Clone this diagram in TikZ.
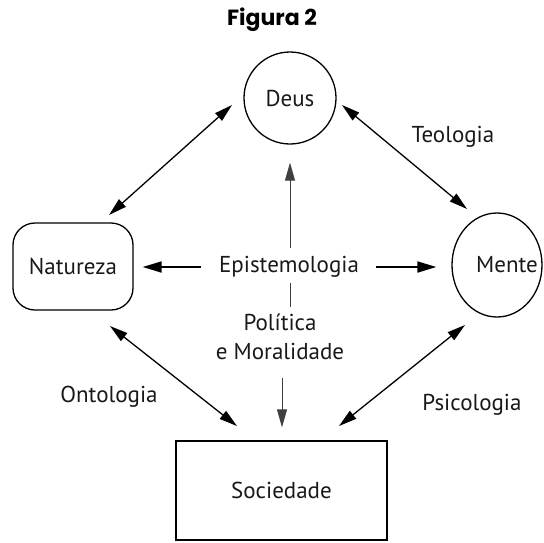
\documentclass[tikz,border=0pt]{standalone}
\usepackage{fontspec}
\setmainfont{PT Sans}
\newfontfamily\titlefont{Poppins}
\usetikzlibrary{arrows.meta,shapes.geometric}

\begin{document}
\begin{tikzpicture}[x=1pt,y=-1pt,
  lbl/.style={font=\fontsize{23}{27}\selectfont, text=black!90, inner sep=0pt},
  box/.style={draw, line width=1.3pt, lbl},
  conn/.style={line width=1.9pt, -{Triangle[length=19pt,width=11pt]}},
  thin conn/.style={line width=1pt, draw=black!75, -{Triangle[length=18pt,width=10pt]}},
  dbl/.style={line width=1.3pt, {Triangle[length=18pt,width=10pt]}-{Triangle[length=18pt,width=10pt]}},
  title/.style={font=\titlefont\bfseries\fontsize{22}{26}\selectfont, inner sep=0pt}]
\useasboundingbox (0,0) rectangle (544,542);

% heading
\node[title] (title) at (272,20) {Figura 2};

% the four domains
\node[box, circle, minimum size=92pt] (deus) at (290,98) {Deus};
\node[box, rounded corners=22pt, minimum width=120pt, minimum height=87pt] (nat) at (73,266.5) {Natureza};
\node[box, ellipse, minimum width=90pt, minimum height=104pt,
      label={[lbl, xshift=10pt]center:Mente}] (mente) at (497,265) {};
\node[box, rectangle, minimum width=211pt, minimum height=99pt] (soc) at (281.5,490.5) {Sociedade};

% disciplines
\node[lbl] (epis) at (289,267) {Epistemologia};
\node[lbl, align=center, font=\fontsize{23}{29}\selectfont] (pol) at (280,337) {Política\\e Moralidade};
\node[lbl] (teo) at (453,137) {Teologia};
\node[lbl] (onto) at (109,397) {Ontologia};
\node[lbl] (psi) at (472,405) {Psicologia};

% end points of the diagonal links
\coordinate (nd-a) at (109,215);
\coordinate (nd-b) at (232,105);
\coordinate (dm-a) at (342,105);
\coordinate (dm-b) at (467,209);
\coordinate (ns-a) at (110,326);
\coordinate (ns-b) at (237,426);
\coordinate (ms-a) at (465,325);
\coordinate (ms-b) at (339,426);
\coordinate (mid-a) at (290,283);
\coordinate (mid-b) at (290,307);

\draw[dbl] (nd-a) -- (nd-b);
\draw[dbl] (dm-a) -- (dm-b);
\draw[dbl] (ns-a) -- (ns-b);
\draw[dbl] (ms-a) -- (ms-b);

% epistemology reaches out in every direction
\draw[conn, shorten <=18pt, shorten >=9pt] (epis.west) -- (epis.west -| nat.east);
\draw[conn, shorten <=17pt, shorten >=15pt] (epis.east) -- (epis.east -| mente.west);
\draw[thin conn, shorten >=18pt] (290,248) -- (deus.south -| 290,0);
\draw[line width=1pt, draw=black!75] (mid-a) -- (mid-b);
\draw[thin conn, shorten >=13pt] (282,378) -- (soc.north -| 282,0);
\end{tikzpicture}
\end{document}
